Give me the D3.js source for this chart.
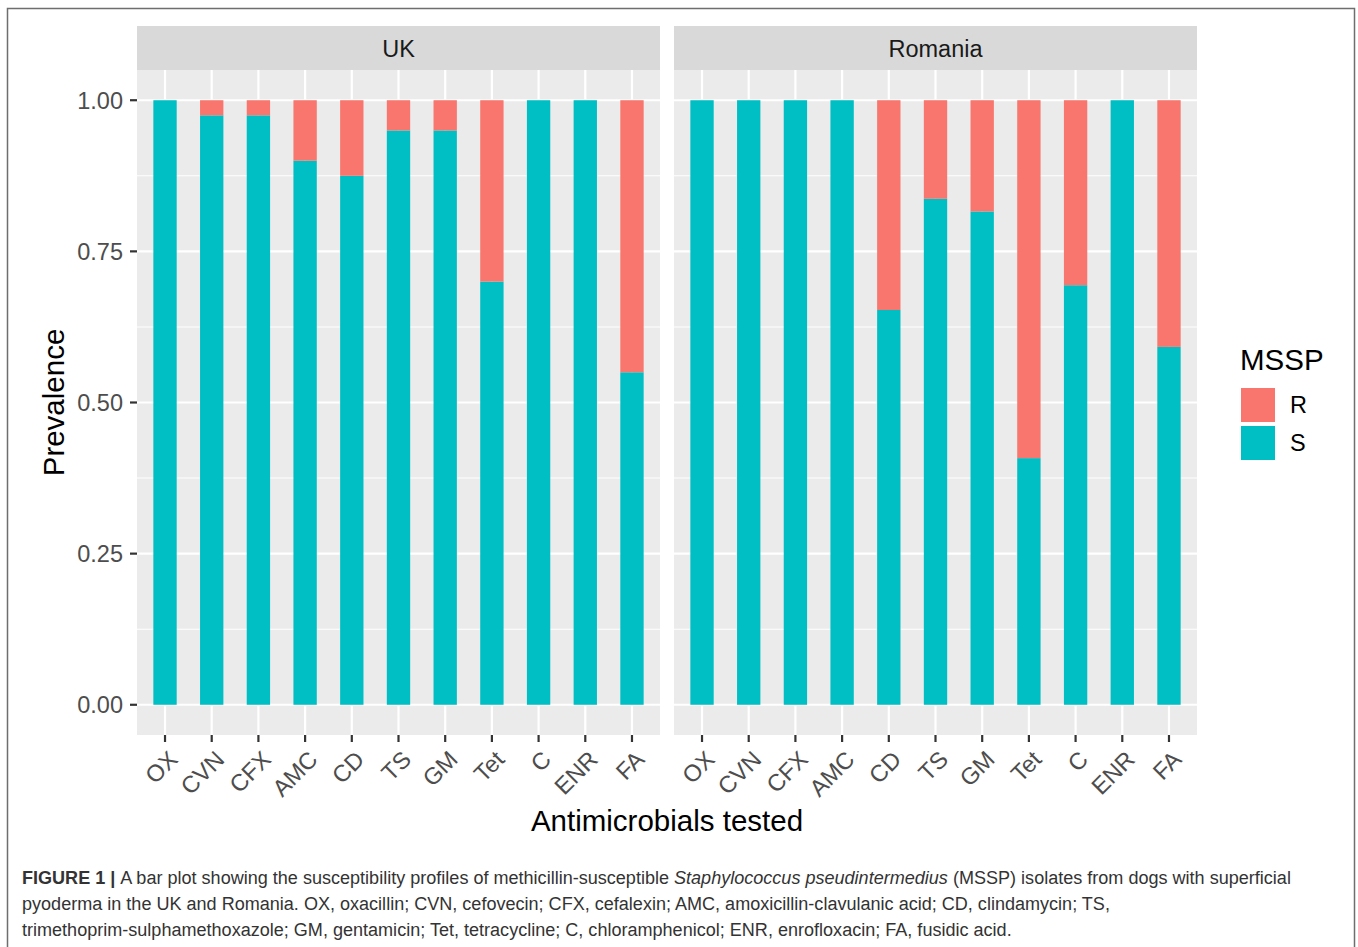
<!DOCTYPE html>
<html lang="en">
<head>
<meta charset="utf-8">
<title>MSSP susceptibility profiles</title>
<script src="https://cdn.jsdelivr.net/npm/d3@7"></script>
<style>
    body { margin: 0; background: #fff; }
    svg { display: block; font-family: "Liberation Sans", Arial, sans-serif; }
</style>
</head>
<body>
<div id="container"></div>
<script>
    // data
    var drugs = ["OX", "CVN", "CFX", "AMC", "CD", "TS", "GM", "Tet", "C", "ENR", "FA"];
    var countries = ["UK", "Romania"];
    var ukS = [1, 0.975, 0.975, 0.9, 0.875, 0.95, 0.95, 0.7, 1, 1, 0.55];
    var ukR = [0, 0.025, 0.025, 0.1, 0.125, 0.05, 0.05, 0.3, 0, 0, 0.45];
    var roS = [1, 1, 1, 1, 0.653, 0.837, 0.816, 0.408, 0.694, 1, 0.592];
    var roR = [0, 0, 0, 0, 0.347, 0.163, 0.184, 0.592, 0.306, 0, 0.408];
    var statuses = ["R", "S"];
    var yTicks = [0, 0.25, 0.5, 0.75, 1];
    var yMinor = [0.125, 0.375, 0.625, 0.875];

    var colors = { R: "#F8766D", S: "#00BFC4" };

    var width = 1358, height = 947;
    var svg = d3.select("#container").append("svg")
        .attr("width", width)
        .attr("height", height);

    // figure frame
    svg.append("rect")
        .attr("x", 7.5).attr("y", 8.5)
        .attr("width", 1347).attr("height", 960)
        .style("fill", "none")
        .style("stroke", "#6e6e6e")
        .style("stroke-width", 1.5);

    var panelLeft = [137, 674];
    var panelW = 523;
    var stripTop = 26, panelTop = 70, panelBottom = 735;

    var y = d3.scaleLinear().domain([-0.05, 1.05]).range([panelBottom, panelTop]);

    var seriesS = [ukS, roS];
    var seriesR = [ukR, roR];

    countries.forEach(function(country, ci) {
        var x0 = panelLeft[ci];
        // bar centres, ggplot style discrete expansion of 0.6
        var xc = d3.scalePoint().domain(drugs).range([x0, x0 + panelW]).padding(0.6);
        var bw = xc.step() * 0.5;

        var g = svg.append("g");

        // strip
        g.append("rect")
            .attr("x", x0).attr("y", stripTop)
            .attr("width", panelW).attr("height", panelTop - stripTop)
            .style("fill", "#D9D9D9");
        g.append("text")
            .attr("x", x0 + panelW / 2).attr("y", (stripTop + panelTop) / 2 + 1)
            .attr("dy", "0.36em")
            .attr("text-anchor", "middle")
            .style("font-size", "23.5px")
            .style("fill", "#1A1A1A")
            .text(country);

        // panel
        g.append("rect")
            .attr("x", x0).attr("y", panelTop)
            .attr("width", panelW).attr("height", panelBottom - panelTop)
            .style("fill", "#EBEBEB");

        g.selectAll(".minor").data(yMinor).enter().append("line")
            .attr("x1", x0).attr("x2", x0 + panelW)
            .attr("y1", function(d) { return y(d); })
            .attr("y2", function(d) { return y(d); })
            .style("stroke", "#fff").style("stroke-width", 1.1);
        g.selectAll(".major").data(yTicks).enter().append("line")
            .attr("x1", x0).attr("x2", x0 + panelW)
            .attr("y1", function(d) { return y(d); })
            .attr("y2", function(d) { return y(d); })
            .style("stroke", "#fff").style("stroke-width", 2.2);
        g.selectAll(".vgrid").data(drugs).enter().append("line")
            .attr("x1", function(d) { return xc(d); })
            .attr("x2", function(d) { return xc(d); })
            .attr("y1", panelTop).attr("y2", panelBottom)
            .style("stroke", "#fff").style("stroke-width", 2.2);

        // stacked bars: S at bottom, R on top
        var rows = drugs.map(function(d, i) {
            return { drug: d, S: seriesS[ci][i], R: seriesR[ci][i] };
        });
        var stack = d3.stack().keys(["S", "R"])(rows);
        stack.forEach(function(layer) {
            g.selectAll(".bar-" + layer.key).data(layer).enter().append("rect")
                .attr("x", function(d) { return xc(d.data.drug) - bw / 2; })
                .attr("width", bw)
                .attr("y", function(d) { return y(d[1]); })
                .attr("height", function(d) { return y(d[0]) - y(d[1]); })
                .style("fill", colors[layer.key]);
        });

        // x axis ticks and labels
        g.selectAll(".xtick").data(drugs).enter().append("line")
            .attr("x1", function(d) { return xc(d); })
            .attr("x2", function(d) { return xc(d); })
            .attr("y1", panelBottom).attr("y2", panelBottom + 7)
            .style("stroke", "#333").style("stroke-width", 2.2);
        g.selectAll(".xlab").data(drugs).enter().append("text")
            .attr("transform", function(d) {
                return "translate(" + (xc(d) + 2) + "," + (panelBottom + 14) + ") rotate(-45)";
            })
            .attr("text-anchor", "end")
            .attr("dy", "0.72em")
            .style("font-size", "23.5px")
            .style("fill", "#4D4D4D")
            .text(function(d) { return d; });
    });

    // y axis
    var ya = svg.append("g");
    ya.selectAll("line").data(yTicks).enter().append("line")
        .attr("x1", panelLeft[0] - 7).attr("x2", panelLeft[0])
        .attr("y1", function(d) { return y(d); })
        .attr("y2", function(d) { return y(d); })
        .style("stroke", "#333").style("stroke-width", 2.2);
    ya.selectAll("text").data(yTicks).enter().append("text")
        .attr("x", panelLeft[0] - 14)
        .attr("y", function(d) { return y(d); })
        .attr("dy", "0.36em")
        .attr("text-anchor", "end")
        .style("font-size", "23.5px")
        .style("fill", "#4D4D4D")
        .text(function(d) { return d3.format(".2f")(d); });

    // axis titles
    svg.append("text")
        .attr("transform", "translate(" + 64 + "," + ((panelTop + panelBottom) / 2) + ") rotate(-90)")
        .attr("text-anchor", "middle")
        .style("font-size", "29.5px")
        .style("fill", "#000")
        .text("Prevalence");
    svg.append("text")
        .attr("x", (panelLeft[0] + panelLeft[1] + panelW) / 2)
        .attr("y", 831)
        .attr("text-anchor", "middle")
        .style("font-size", "29.5px")
        .style("fill", "#000")
        .text("Antimicrobials tested");

    // legend
    var lg = svg.append("g");
    lg.append("text")
        .attr("x", 1240).attr("y", 370)
        .style("font-size", "29.5px")
        .text("MSSP");
    lg.selectAll("rect").data(statuses).enter().append("rect")
        .attr("x", 1241)
        .attr("y", function(d, i) { return 388 + i * 38; })
        .attr("width", 34).attr("height", 34)
        .style("fill", function(d) { return colors[d]; });
    lg.selectAll(".lt").data(statuses).enter().append("text")
        .attr("x", 1290)
        .attr("y", function(d, i) { return 405 + i * 38; })
        .attr("dy", "0.36em")
        .style("font-size", "23.5px")
        .text(function(d) { return d; });

    // caption
    var captionLines = [
        [["FIGURE 1 | ", "bold"], ["A bar plot showing the susceptibility profiles of methicillin-susceptible ", ""],
         ["Staphylococcus pseudintermedius", "italic"], [" (MSSP) isolates from dogs with superficial", ""]],
        [["pyoderma in the UK and Romania. OX, oxacillin; CVN, cefovecin; CFX, cefalexin; AMC, amoxicillin-clavulanic acid; CD, clindamycin; TS,", ""]],
        [["trimethoprim-sulphamethoxazole; GM, gentamicin; Tet, tetracycline; C, chloramphenicol; ENR, enrofloxacin; FA, fusidic acid.", ""]]
    ];
    var cap = svg.append("g").style("font-size", "16px").style("fill", "#333");
    var capText = [];
    captionLines.forEach(function(line, li) {
        var t = cap.append("text").attr("x", 22).attr("y", 884 + li * 26);
        line.forEach(function(part) {
            var ts = t.append("tspan").text(part[0]);
            if (part[1] === "bold") ts.style("font-weight", "bold");
            if (part[1] === "italic") ts.style("font-style", "italic");
        });
        capText.push(t);
    });
    // scale caption font so the first line spans the same width as in the figure
    var w0 = capText[0].node().getComputedTextLength();
    cap.style("font-size", (16 * 1270 / w0) + "px");
</script>
</body>
</html>
